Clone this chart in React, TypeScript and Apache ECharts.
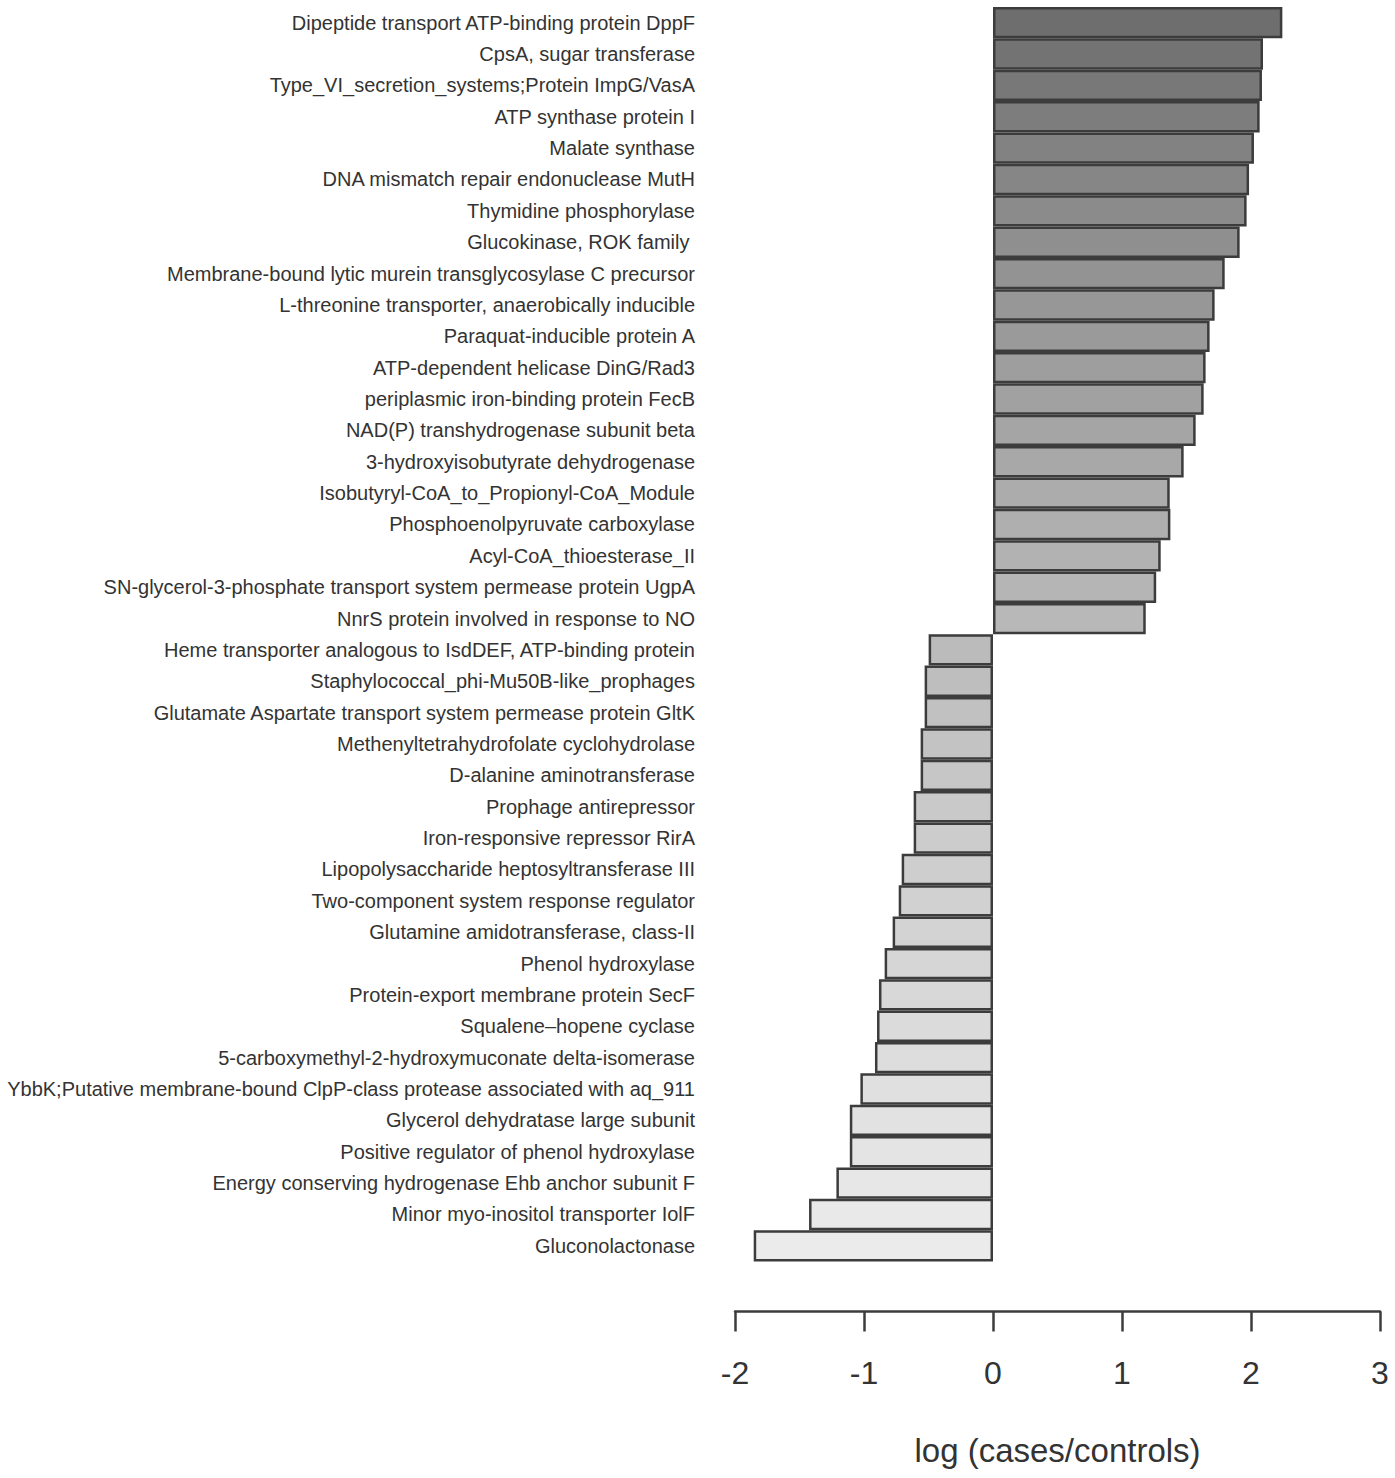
import React, { useEffect, useRef } from "react";
import * as echarts from "echarts";

const categories: string[] = [
  "Dipeptide transport ATP-binding protein DppF",
  "CpsA, sugar transferase",
  "Type_VI_secretion_systems;Protein ImpG/VasA",
  "ATP synthase protein I",
  "Malate synthase",
  "DNA mismatch repair endonuclease MutH",
  "Thymidine phosphorylase",
  "Glucokinase, ROK family ",
  "Membrane-bound lytic murein transglycosylase C precursor",
  "L-threonine transporter, anaerobically inducible",
  "Paraquat-inducible protein A",
  "ATP-dependent helicase DinG/Rad3",
  "periplasmic iron-binding protein FecB",
  "NAD(P) transhydrogenase subunit beta",
  "3-hydroxyisobutyrate dehydrogenase",
  "Isobutyryl-CoA_to_Propionyl-CoA_Module",
  "Phosphoenolpyruvate carboxylase",
  "Acyl-CoA_thioesterase_II",
  "SN-glycerol-3-phosphate transport system permease protein UgpA",
  "NnrS protein involved in response to NO",
  "Heme transporter analogous to IsdDEF, ATP-binding protein",
  "Staphylococcal_phi-Mu50B-like_prophages",
  "Glutamate Aspartate transport system permease protein GltK",
  "Methenyltetrahydrofolate cyclohydrolase",
  "D-alanine aminotransferase",
  "Prophage antirepressor",
  "Iron-responsive repressor RirA",
  "Lipopolysaccharide heptosyltransferase III",
  "Two-component system response regulator",
  "Glutamine amidotransferase, class-II",
  "Phenol hydroxylase",
  "Protein-export membrane protein SecF",
  "Squalene–hopene cyclase",
  "5-carboxymethyl-2-hydroxymuconate delta-isomerase",
  "YbbK;Putative membrane-bound ClpP-class protease associated with aq_911",
  "Glycerol dehydratase large subunit",
  "Positive regulator of phenol hydroxylase",
  "Energy conserving hydrogenase Ehb anchor subunit F",
  "Minor myo-inositol transporter IolF",
  "Gluconolactonase",
];

const values: number[] = [
  2.243, 2.093, 2.085, 2.067, 2.023, 1.985, 1.966, 1.912, 1.796, 1.718,
  1.679, 1.648, 1.633, 1.571, 1.478, 1.37, 1.375, 1.3, 1.265, 1.184,
  -0.499, -0.53, -0.53, -0.561, -0.561, -0.615, -0.615, -0.708, -0.731, -0.778,
  -0.84, -0.884, -0.899, -0.915, -1.028, -1.11, -1.11, -1.214, -1.426, -1.855,
];

const xTicks = { min: -2, max: 3, interval: 1 };
const axisTitle = "log (cases/controls)";

// grey ramp (gamma 2.2) from dark at top to light at bottom
function greyAt(i: number, n: number): string {
  const s = 110 / 255;
  const e = 235 / 255;
  const g = 2.2;
  const t = n > 1 ? i / (n - 1) : 0;
  const v = Math.pow(Math.pow(s, g) + t * (Math.pow(e, g) - Math.pow(s, g)), 1 / g);
  const c = Math.round(v * 255);
  return `rgb(${c},${c},${c})`;
}

const FONT = "'Liberation Sans', Arial, sans-serif";
const DARK = "#3c3c3c";

export default function App() {
  const ref = useRef<HTMLDivElement>(null);
  useEffect(() => {
    if (!ref.current) return;
    const chart = echarts.init(ref.current, undefined, { renderer: "svg" });
    const n = values.length;
    chart.setOption({
      animation: false,
      backgroundColor: "#ffffff",
      grid: { left: 735, right: 15, top: 7, height: 1254.5, containLabel: false },
      xAxis: {
        type: "value",
        min: xTicks.min,
        max: xTicks.max,
        interval: xTicks.interval,
        position: "bottom",
        offset: 50,
        name: axisTitle,
        nameLocation: "middle",
        nameGap: 122,
        nameTextStyle: { fontFamily: FONT, fontSize: 33, color: "#333333" },
        axisLine: { show: true, onZero: false, lineStyle: { color: DARK, width: 2.5 } },
        axisTick: { show: true, length: 20, inside: false, lineStyle: { color: DARK, width: 2.5 } },
        axisLabel: { margin: 45, fontFamily: FONT, fontSize: 32, color: "#333333" },
        splitLine: { show: false },
      },
      yAxis: {
        type: "category",
        data: categories,
        inverse: true,
        axisLine: { show: false },
        axisTick: { show: false },
        splitLine: { show: false },
        axisLabel: { margin: 40, fontFamily: FONT, fontSize: 20, color: "#333333" },
      },
      series: [
        {
          type: "bar",
          data: values.map((v, i) => ({
            value: v,
            itemStyle: { color: greyAt(i, n) },
          })),
          barCategoryGap: "0%",
          itemStyle: { borderColor: DARK, borderWidth: 2.5 },
        },
      ],
    });
    return () => chart.dispose();
  }, []);
  return (
    <div
      ref={ref}
      style={{ position: "absolute", left: 0, top: 0, width: 1395, height: 1478 }}
    />
  );
}
